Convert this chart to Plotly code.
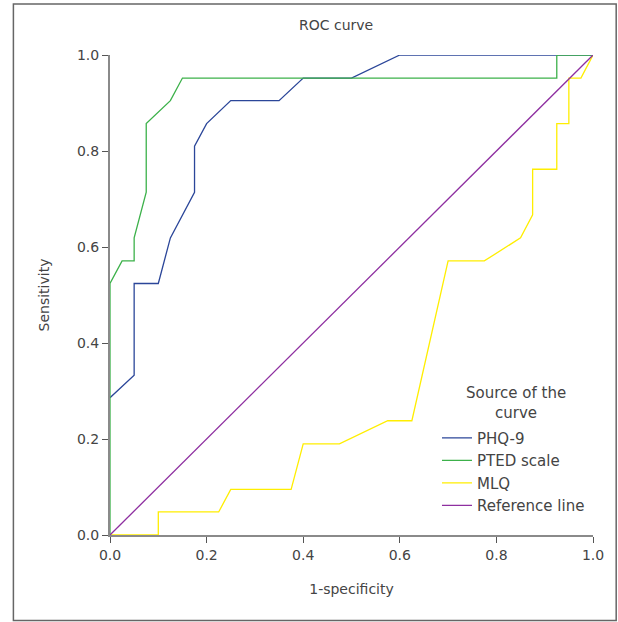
import plotly.graph_objects as go

# 1-specificity (x) and sensitivity (y) for each curve
phq9_x = [0.0, 0.05, 0.05, 0.10, 0.125, 0.175, 0.175, 0.20, 0.25, 0.35, 0.40, 0.50, 0.60, 1.0]
phq9_y = [0.286, 0.333, 0.524, 0.524, 0.619, 0.714, 0.810, 0.857, 0.905, 0.905, 0.952, 0.952, 1.0, 1.0]

pted_x = [0.0, 0.0, 0.025, 0.05, 0.05, 0.075, 0.075, 0.125, 0.15, 0.925, 0.925, 1.0]
pted_y = [0.0, 0.524, 0.571, 0.571, 0.619, 0.714, 0.857, 0.905, 0.952, 0.952, 1.0, 1.0]

mlq_x = [0.0, 0.10, 0.10, 0.225, 0.25, 0.375, 0.40, 0.475, 0.575, 0.625, 0.70, 0.775, 0.85, 0.875,
         0.875, 0.925, 0.925, 0.95, 0.95, 0.975, 1.0]
mlq_y = [0.0, 0.0, 0.048, 0.048, 0.095, 0.095, 0.190, 0.190, 0.238, 0.238, 0.571, 0.571, 0.619, 0.667,
         0.762, 0.762, 0.857, 0.857, 0.952, 0.952, 1.0]

ref_x = [0.0, 1.0]
ref_y = [0.0, 1.0]

tick_vals = [0.0, 0.2, 0.4, 0.6, 0.8, 1.0]
tick_text = ["0.0", "0.2", "0.4", "0.6", "0.8", "1.0"]

FONT = "DejaVu Sans"
TXT = "#444444"

fig = go.Figure()
series = [
    ("PHQ-9", phq9_x, phq9_y, "#2b4699"),
    ("PTED scale", pted_x, pted_y, "#3cb14a"),
    ("MLQ", mlq_x, mlq_y, "#ffee00"),
    ("Reference line", ref_x, ref_y, "#8e2fa0"),
]
for name, xs, ys, col in series:
    fig.add_trace(go.Scatter(x=xs, y=ys, mode="lines", name=name,
                             line=dict(color=col, width=1.3), cliponaxis=False,
                             hoverinfo="skip"))

axis_common = dict(
    range=[0, 1], tickvals=tick_vals, ticktext=tick_text,
    showgrid=False, zeroline=False, showline=True, linecolor="#8a8a8a", linewidth=2,
    ticks="outside", ticklen=6, tickcolor="#555555", tickwidth=1,
    tickfont=dict(family=FONT, size=14, color=TXT),
)
fig.update_xaxes(**axis_common, title=dict(text="1-specificity", font=dict(family=FONT, size=14, color=TXT), standoff=22))
fig.update_yaxes(**axis_common, title=dict(text="Sensitivity", font=dict(family=FONT, size=14, color=TXT), standoff=24))

fig.update_layout(
    width=618, height=622,
    margin=dict(l=110, r=25, t=55, b=87),
    paper_bgcolor="white", plot_bgcolor="white",
    showlegend=True,
    legend=dict(
        x=0.677, y=0.236, xanchor="left", yanchor="top",
        bgcolor="rgba(0,0,0,0)",
        font=dict(family=FONT, size=15, color=TXT),
        itemwidth=30,
    ),
    annotations=[
        dict(text="ROC curve", xref="paper", yref="paper", x=0.467, y=1.0,
             yshift=30, showarrow=False, xanchor="center", yanchor="middle",
             font=dict(family=FONT, size=14, color=TXT)),
        dict(text="Source of the<br>curve", xref="paper", yref="paper", x=0.841, y=0.276,
             showarrow=False, xanchor="center", yanchor="middle", align="center",
             font=dict(family=FONT, size=15, color=TXT)),
    ],
    shapes=[dict(type="rect", xref="paper", yref="paper",
                 x0=-0.2, x1=1.048, y0=-0.178, y1=1.106,
                 line=dict(color="#666666", width=1.5), layer="below")],
)

fig.write_html("out.html", config={"displayModeBar": False},
               post_script="document.body.style.margin='0';document.body.style.padding='0';")
